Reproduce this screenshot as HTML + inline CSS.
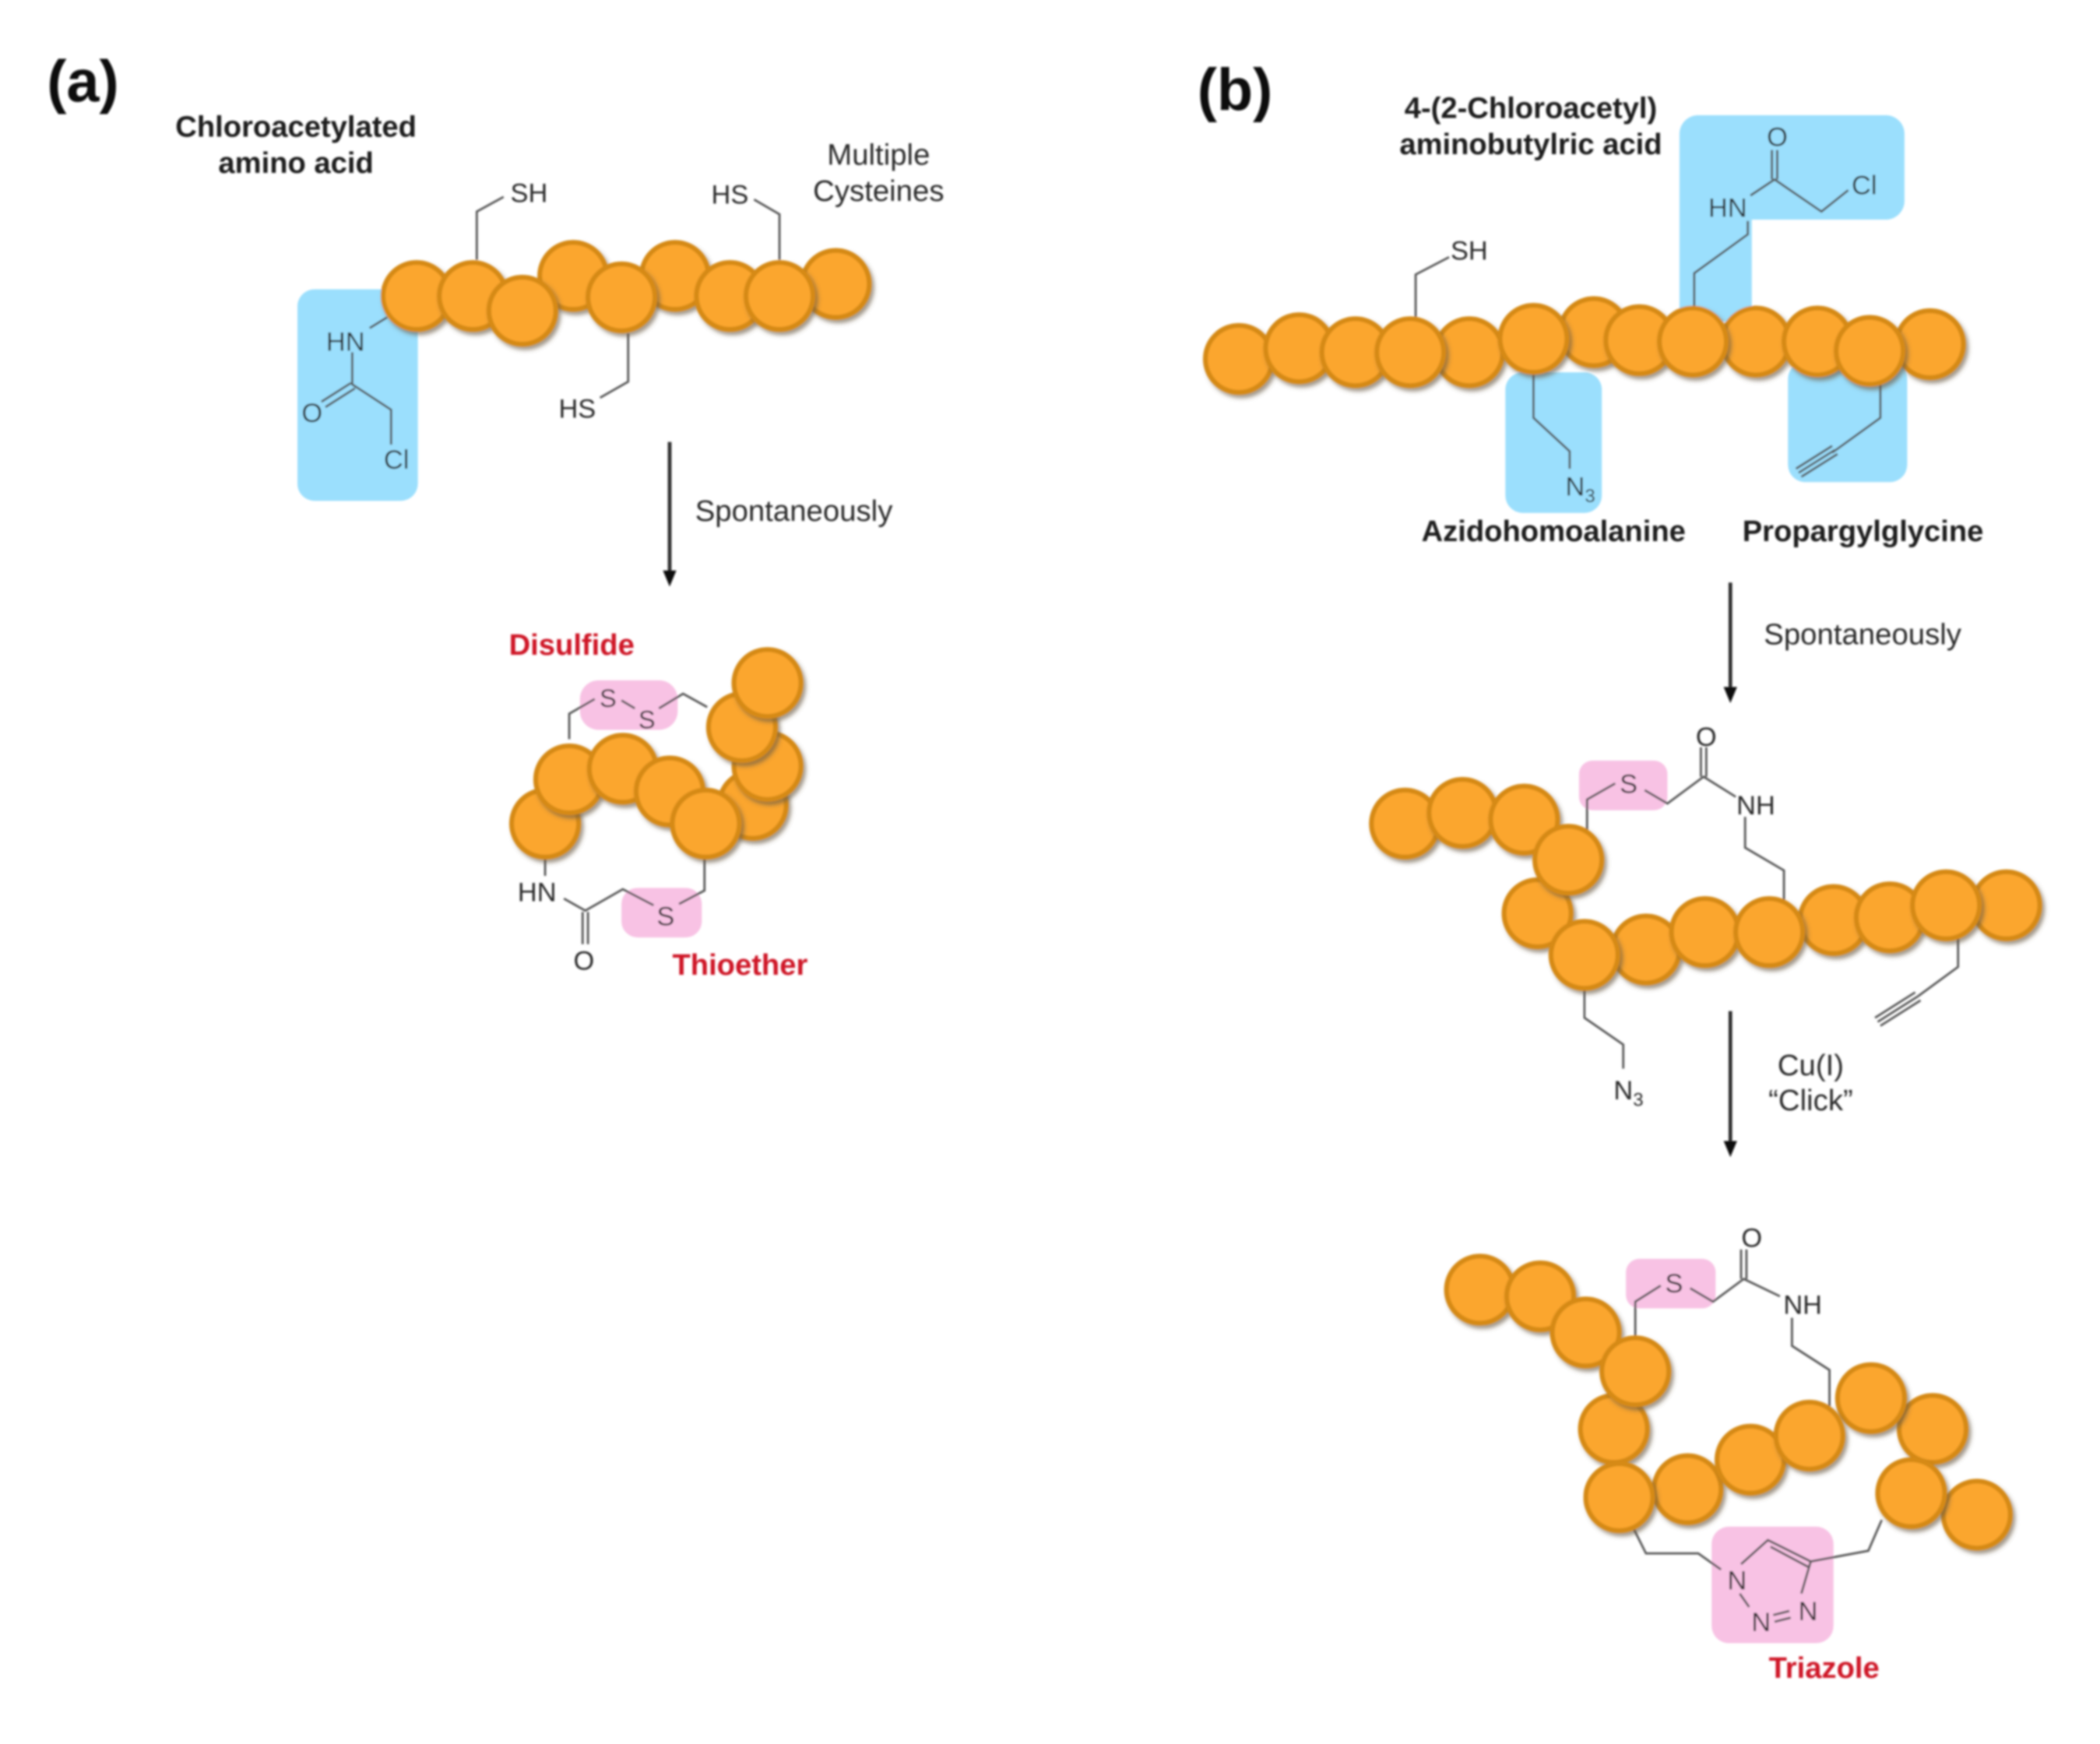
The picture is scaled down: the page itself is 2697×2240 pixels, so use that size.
<!DOCTYPE html>
<html><head><meta charset="utf-8"><style>
html,body{margin:0;padding:0;background:#fff}
svg{display:block}
text{font-family:"Liberation Sans",Arial,sans-serif;fill:#2a2a2a}
.l{font-size:22.3px}.c{font-size:20px;text-anchor:middle}.m{text-anchor:middle}
.b{font-size:22.2px;font-weight:bold;fill:#1a1a1a}
.r{font-size:22.2px;font-weight:bold;fill:#cf1228}
.h{font-size:44px;font-weight:bold;fill:#111}
.o circle{fill:#fba62d;stroke:#d68a15;stroke-width:3.6;filter:url(#s)}
.w{fill:none;stroke:#555;stroke-width:1.6;stroke-linejoin:miter}
.blue{fill:#9bdffd}.pink{fill:#f8c2e4}
.ar{stroke:#333;stroke-width:2.8;fill:none}
</style></head><body>
<svg width="2697" height="2240" viewBox="0 0 1568 1302.3" xmlns="http://www.w3.org/2000/svg">
<defs>
<filter id="s" x="-20%" y="-20%" width="150%" height="150%"><feDropShadow dx="2" dy="2.5" stdDeviation="1.5" flood-color="#6d5c45" flood-opacity=".65"/></filter>
<filter id="bl" filterUnits="userSpaceOnUse" x="0" y="0" width="1568" height="1303"><feGaussianBlur stdDeviation="0.8"/></filter>
</defs>
<rect width="1568" height="1303" fill="#fff"/>
<g filter="url(#bl)">
<!-- backgrounds -->
<rect class="blue" x="222" y="216" width="90" height="158" rx="13"/>
<rect class="pink" x="433" y="508" width="73" height="37" rx="14"/>
<rect class="pink" x="464" y="663" width="60" height="37" rx="12"/>
<path class="blue" d="M1268 86H1408a14 14 0 0 1 14 14V150a14 14 0 0 1-14 14H1308V240H1254V100a14 14 0 0 1 14-14Z"/>
<rect class="blue" x="1124" y="278" width="72" height="105" rx="13"/>
<rect class="blue" x="1335" y="270" width="89" height="90" rx="13"/>
<rect class="pink" x="1179" y="568" width="66" height="37" rx="10"/>
<rect class="pink" x="1214" y="940" width="67" height="37" rx="10"/>
<rect class="pink" x="1278" y="1140" width="91" height="87" rx="13"/>

<!-- bonds panel a -->
<path class="w" d="M356 194V158L376 147M582 194V160L563 149M469 249V285L448 297M289 237L276 245M263 263V287L292 306V332"/>
<path class="w" d="M262 286L240 300M265 290L243 304"/>
<path class="w" d="M425 552V533L444 522M464 523L474 529M492 529L510 518L528 528"/>
<path class="w" d="M407 640V654M421 671L437 680L465 664L488 676M507 675L526 665V640"/>
<path class="w" d="M435 681V705M439 681V705"/>

<!-- bonds panel b -->
<path class="w" d="M1057 240V205L1082 192M1265 232V204L1305 175V165M1307 146L1325 134L1360 158L1380 142M1145 280V312L1172 337V350M1404 283V312L1368 338"/>
<path class="w" d="M1323 134V112M1327 134V112"/>
<path class="w" d="M1370 336L1343 353M1372 339L1345 356M1368 333L1341 350"/>
<path class="w" d="M1185 620V597L1206 585M1228 590L1245 600L1272 580L1296 595M1303 610V633L1332 650V672M1183 735V760L1212 780V798M1462 700V722L1432 744"/>
<path class="w" d="M1270 580V558M1274 580V558"/>
<path class="w" d="M1432 744L1402 763M1434 747L1404 766M1430 741L1400 760"/>
<path class="w" d="M1221 998V972L1240 960M1262 962L1279 972L1302 955L1329 968M1338 984V1005L1366 1023V1050"/>
<path class="w" d="M1300 955V933M1304 955V933"/>
<path class="w" d="M1220 1142L1229 1160H1268L1285 1172M1300 1168L1320 1150L1352 1166L1345 1190M1352 1166L1395 1158L1405 1135M1299 1190L1306 1200"/>
<path class="w" d="M1322 1155L1350 1170M1336 1203L1324 1206M1337 1208L1325 1211"/>

<!-- chain a1 -->
<g class="o">
<circle cx="624" cy="212" r="25"/><circle cx="504" cy="206" r="25"/><circle cx="428" cy="206" r="25"/>
<circle cx="311" cy="221" r="25"/><circle cx="353" cy="221" r="25"/><circle cx="390" cy="232" r="25"/>
<circle cx="464" cy="222" r="25"/><circle cx="545" cy="221" r="25"/><circle cx="582" cy="221" r="25"/>
</g>
<!-- chain a2 -->
<g class="o">
<circle cx="407" cy="615" r="25"/><circle cx="425" cy="582" r="25"/><circle cx="465" cy="574" r="25"/>
<circle cx="500" cy="591" r="25"/><circle cx="562" cy="601" r="25"/><circle cx="527" cy="615" r="25"/>
<circle cx="573" cy="572" r="25"/><circle cx="554" cy="543" r="25"/><circle cx="573" cy="510" r="25"/>
</g>
<!-- chain b1 -->
<g class="o">
<circle cx="925" cy="268" r="25"/><circle cx="970" cy="260" r="25"/><circle cx="1012" cy="263" r="25"/>
<circle cx="1097" cy="263" r="25"/><circle cx="1053" cy="263" r="25"/><circle cx="1190" cy="248" r="25"/>
<circle cx="1224" cy="254" r="25"/><circle cx="1145" cy="253" r="25"/><circle cx="1311" cy="255" r="25"/>
<circle cx="1264" cy="255" r="25"/><circle cx="1357" cy="255" r="25"/><circle cx="1441" cy="257" r="25"/>
<circle cx="1396" cy="262" r="25"/>
</g>
<!-- chain b2 -->
<g class="o">
<circle cx="1049" cy="615" r="25"/><circle cx="1092" cy="607" r="25"/><circle cx="1138" cy="612" r="25"/>
<circle cx="1148" cy="682" r="25"/><circle cx="1171" cy="642" r="25"/><circle cx="1229" cy="709" r="25"/>
<circle cx="1183" cy="713" r="25"/><circle cx="1273" cy="696" r="25"/><circle cx="1369" cy="687" r="25"/>
<circle cx="1321" cy="696" r="25"/><circle cx="1411" cy="685" r="25"/><circle cx="1498" cy="676" r="25"/>
<circle cx="1453" cy="676" r="25"/>
</g>
<!-- chain b3 -->
<g class="o">
<circle cx="1105" cy="963" r="25"/><circle cx="1150" cy="968" r="25"/><circle cx="1184" cy="995" r="25"/>
<circle cx="1205" cy="1067" r="25"/><circle cx="1221" cy="1024" r="25"/><circle cx="1260" cy="1112" r="25"/>
<circle cx="1209" cy="1118" r="25"/><circle cx="1307" cy="1090" r="25"/><circle cx="1443" cy="1067" r="25"/>
<circle cx="1397" cy="1044" r="25"/><circle cx="1351" cy="1072" r="25"/><circle cx="1476" cy="1131" r="25"/>
<circle cx="1427" cy="1115" r="25"/>
</g>

<!-- arrows -->
<path class="ar" d="M500 330V428M1292 435V515M1292 755V854"/>
<path d="M495 426H505L500 438ZM1287 513H1297L1292 525ZM1287 852H1297L1292 864Z" fill="#111"/>

<!-- labels a -->
<text class="h" x="35" y="76">(a)</text>
<text class="b m" x="221" y="102">Chloroacetylated</text>
<text class="b m" x="221" y="129">amino acid</text>
<text class="l m" x="656" y="123">Multiple</text>
<text class="l m" x="656" y="150">Cysteines</text>
<text class="c" x="395" y="151">SH</text>
<text class="c" x="545" y="152">HS</text>
<text class="c" x="431" y="312">HS</text>
<text class="c" x="258" y="262">HN</text>
<text class="c" x="233" y="315">O</text>
<text class="c" x="296" y="350">Cl</text>
<text class="l" x="519" y="389">Spontaneously</text>
<text class="r" x="380" y="489">Disulfide</text>
<text class="r" x="502" y="728">Thioether</text>
<text class="c" x="454" y="528" style="font-size:19px">S</text>
<text class="c" x="483" y="544" style="font-size:19px">S</text>
<text class="c" x="401" y="673">HN</text>
<text class="c" x="497" y="691">S</text>
<text class="c" x="436" y="724">O</text>

<!-- labels b -->
<text class="h" x="894" y="82">(b)</text>
<text class="b m" x="1143" y="88">4-(2-Chloroacetyl)</text>
<text class="b m" x="1143" y="115">aminobutylric acid</text>
<text class="c" x="1097" y="194">SH</text>
<text class="c" x="1327" y="109">O</text>
<text class="c" x="1290" y="162">HN</text>
<text class="c" x="1392" y="145">Cl</text>
<text class="c" x="1180" y="370">N<tspan dy="5" font-size="14">3</tspan></text>
<text class="b m" x="1160" y="404">Azidohomoalanine</text>
<text class="b m" x="1391" y="404">Propargylglycine</text>
<text class="l" x="1317" y="481">Spontaneously</text>
<text class="c" x="1216" y="592">S</text>
<text class="c" x="1274" y="557">O</text>
<text class="c" x="1311" y="608">NH</text>
<text class="c" x="1216" y="821">N<tspan dy="5" font-size="14">3</tspan></text>
<text class="l m" x="1352" y="803">Cu(I)</text>
<text class="l m" x="1352" y="829">“Click”</text>
<text class="c" x="1250" y="965">S</text>
<text class="c" x="1308" y="931">O</text>
<text class="c" x="1346" y="981">NH</text>
<text class="c" x="1297" y="1187">N</text>
<text class="c" x="1315" y="1218">N</text>
<text class="c" x="1350" y="1210">N</text>
<text class="r m" x="1362" y="1253">Triazole</text>
</g>
</svg>
</body></html>
